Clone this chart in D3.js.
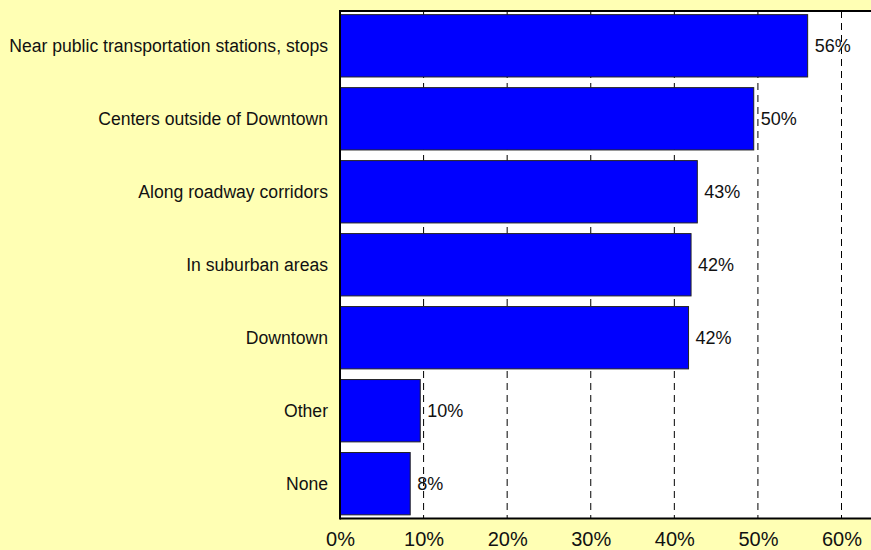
<!DOCTYPE html>
<html>
<head>
<meta charset="utf-8">
<script src="https://cdn.jsdelivr.net/npm/d3@7"></script>
<style>
  html, body { margin: 0; padding: 0; background: #FFFFB4; }
  svg { display: block; font-family: "Liberation Sans", Arial, sans-serif; }
</style>
</head>
<body>
<svg id="canvas" width="871" height="550"></svg>
<script>
const categories = ['Near public transportation stations, stops', 'Centers outside of Downtown', 'Along roadway corridors', 'In suburban areas', 'Downtown', 'Other', 'None']
const values = [55.95, 49.5, 42.75, 42.0, 41.7, 9.6, 8.4]
const valueLabels = ['56%', '50%', '43%', '42%', '42%', '10%', '8%']
const ticks = [0, 10, 20, 30, 40, 50, 60]

let canvas = d3.select('#canvas')
const plotLeft = 340, plotTop = 11, plotBottom = 518.5, plotRight = 871

let x = d3.scaleLinear().domain([0, 60]).range([plotLeft, 841.5])
let y = d3.scaleBand().domain(categories).range([plotTop, plotBottom]).paddingInner(0.146).paddingOuter(0.05)

// plot background
canvas.append('rect')
	.attr('x', plotLeft).attr('y', plotTop)
	.attr('width', plotRight - plotLeft).attr('height', plotBottom - plotTop)
	.attr('fill', '#ffffff')

// dashed gridlines
canvas.append('g')
	.selectAll('line')
	.data(ticks.slice(1))
	.enter()
	.append('line')
	.attr('x1', d => x(d)).attr('x2', d => x(d))
	.attr('y1', plotTop).attr('y2', plotBottom)
	.attr('stroke', '#000')
	.attr('stroke-width', 1)
	.attr('stroke-dasharray', '7,5')

// bars
canvas.append('g')
	.selectAll('rect')
	.data(categories)
	.enter()
	.append('rect')
	.attr('x', x(0))
	.attr('y', d => y(d))
	.attr('width', (d, i) => x(values[i]) - x(0))
	.attr('height', y.bandwidth())
	.attr('fill', '#0000FF')
	.attr('stroke', '#222')
	.attr('stroke-width', 1)

// value labels
canvas.append('g')
	.selectAll('text')
	.data(categories)
	.enter()
	.append('text')
	.attr('x', (d, i) => x(values[i]) + 7)
	.attr('y', d => y(d) + y.bandwidth() / 2)
	.attr('dy', '0.36em')
	.attr('font-size', 18)
	.attr('fill', '#111')
	.text((d, i) => valueLabels[i])

// category labels
canvas.append('g')
	.selectAll('text')
	.data(categories)
	.enter()
	.append('text')
	.attr('x', 328)
	.attr('y', d => y(d) + y.bandwidth() / 2)
	.attr('dy', '0.36em')
	.attr('text-anchor', 'end')
	.attr('font-size', 17.6)
	.attr('fill', '#111')
	.text(d => d)

// x axis tick labels
let xAxis = d3.axisBottom(x).tickValues(ticks).tickSize(0).tickFormat(d => d + '%')
let axisG = canvas.append('g')
	.attr('transform', `translate(0,${plotBottom})`)
	.call(xAxis)
axisG.select('.domain').remove()
axisG.selectAll('text')
	.attr('y', 27.8)
	.attr('dy', 0)
	.attr('font-size', 20)
	.attr('font-family', '"Liberation Sans", Arial, sans-serif')
	.attr('fill', '#111')

// frame lines
canvas.append('line').attr('x1', plotLeft).attr('x2', plotRight).attr('y1', plotTop).attr('y2', plotTop)
	.attr('stroke', '#000').attr('stroke-width', 2)
canvas.append('line').attr('x1', plotLeft).attr('x2', plotRight).attr('y1', plotBottom).attr('y2', plotBottom)
	.attr('stroke', '#000').attr('stroke-width', 2)
canvas.append('line').attr('x1', plotLeft).attr('x2', plotLeft).attr('y1', plotTop - 1).attr('y2', plotBottom + 1)
	.attr('stroke', '#000').attr('stroke-width', 2)
</script>
</body>
</html>
